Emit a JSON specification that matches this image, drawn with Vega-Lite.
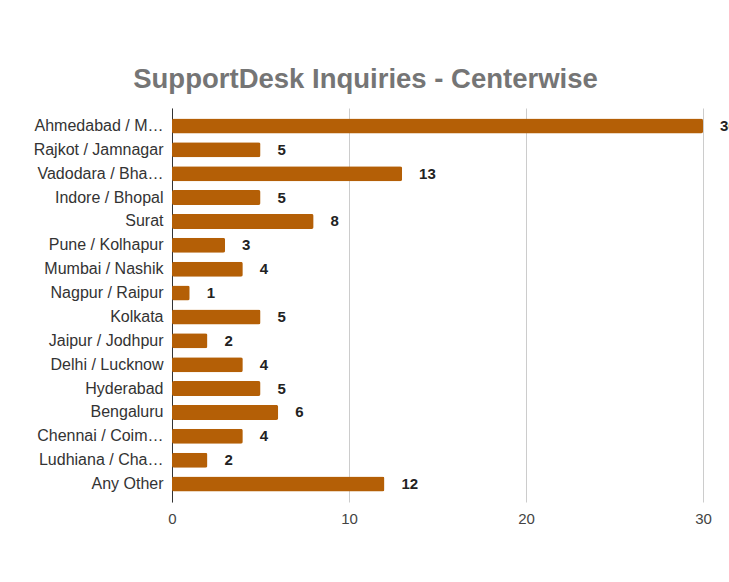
{
  "$schema": "https://vega.github.io/schema/vega-lite/v6.json",
  "width": 531,
  "height": 394,
  "autosize": "none",
  "padding": {"left": 172, "top": 108, "right": 26, "bottom": 80},
  "background": "white",
  "title": {
    "text": "SupportDesk Inquiries - Centerwise",
    "font": "Liberation Sans",
    "fontSize": 27.5,
    "fontWeight": "bold",
    "color": "#757575",
    "anchor": "middle",
    "dx": -72,
    "offset": 15
  },
  "data": {
    "values": [
      {"center": "Ahmedabad / M…", "count": 30},
      {"center": "Rajkot / Jamnagar", "count": 5},
      {"center": "Vadodara / Bha…", "count": 13},
      {"center": "Indore / Bhopal", "count": 5},
      {"center": "Surat", "count": 8},
      {"center": "Pune / Kolhapur", "count": 3},
      {"center": "Mumbai / Nashik", "count": 4},
      {"center": "Nagpur / Raipur", "count": 1},
      {"center": "Kolkata", "count": 5},
      {"center": "Jaipur / Jodhpur", "count": 2},
      {"center": "Delhi / Lucknow", "count": 4},
      {"center": "Hyderabad", "count": 5},
      {"center": "Bengaluru", "count": 6},
      {"center": "Chennai / Coim…", "count": 4},
      {"center": "Ludhiana / Cha…", "count": 2},
      {"center": "Any Other", "count": 12}
    ]
  },
  "encoding": {
    "y": {
      "field": "center",
      "type": "nominal",
      "sort": null,
      "scale": {"paddingInner": 0.37, "paddingOuter": 0.435},
      "axis": {
        "title": null,
        "ticks": false,
        "labelPadding": 9,
        "labelFont": "Liberation Sans",
        "labelFontSize": 16,
        "labelColor": "#333333",
        "labelLimit": 200,
        "domainColor": "#333333",
        "domainWidth": 1,
        "grid": false
      }
    },
    "x": {
      "field": "count",
      "type": "quantitative",
      "scale": {"domain": [0, 30], "nice": false},
      "axis": {
        "title": null,
        "values": [0, 10, 20, 30],
        "ticks": false,
        "domain": false,
        "grid": true,
        "gridColor": "#cccccc",
        "labelFlush": false,
        "labelPadding": 9,
        "labelFont": "Liberation Sans",
        "labelFontSize": 15,
        "labelColor": "#444444"
      }
    }
  },
  "layer": [
    {
      "mark": {"type": "bar", "color": "#b45f06", "cornerRadius": 2}
    },
    {
      "mark": {
        "type": "text",
        "align": "left",
        "dx": 17,
        "font": "Liberation Sans",
        "fontSize": 15,
        "fontWeight": "bold",
        "color": "#222222"
      },
      "encoding": {"text": {"field": "count", "type": "quantitative"}}
    }
  ],
  "config": {"view": {"stroke": null}}
}
